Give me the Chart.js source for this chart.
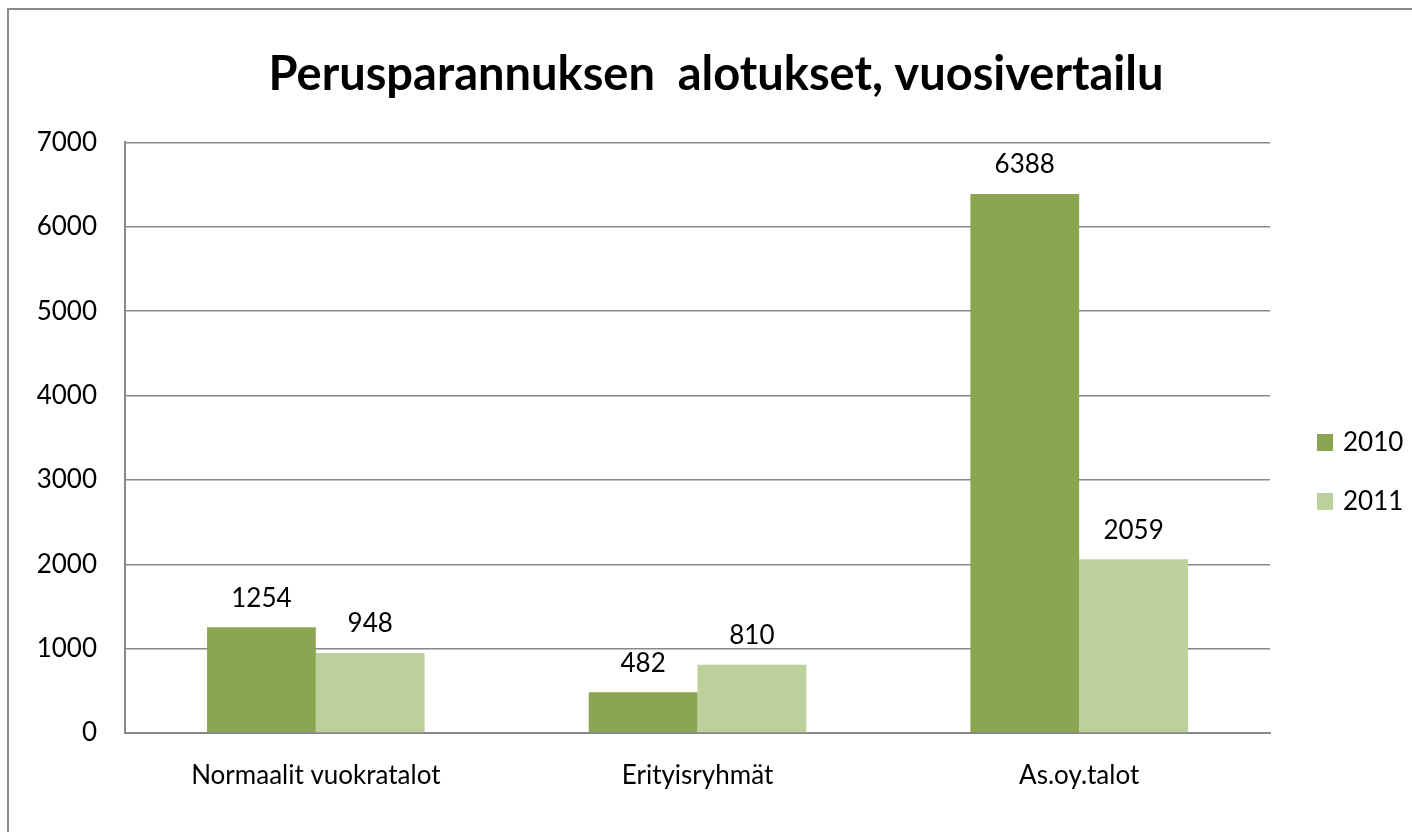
<!DOCTYPE html>
<html>
<head>
<meta charset="utf-8">
<script src="https://cdn.jsdelivr.net/npm/chart.js@4/dist/chart.umd.min.js"></script>
<style>
html,body{margin:0;padding:0;background:#fff;}
canvas{display:block;}
</style>
</head>
<body>
<canvas id="c" width="1412" height="832"></canvas>
<script>
const titleText = 'Perusparannuksen  alotukset, vuosivertailu';
const categories = ['Normaalit vuokratalot', 'Erityisryhmät', 'As.oy.talot'];
const seriesLabels = ['2010', '2011'];
const values2010 = [1254, 482, 6388];
const values2011 = [948, 810, 2059];
const yTicks = [0, 1000, 2000, 3000, 4000, 5000, 6000, 7000];
const colors = ['#8BA650', '#BBD09A'];
const FONT = 'Lato, "Open Sans", sans-serif';

const frame = {
  id: 'frame',
  beforeDraw(chart) {
    const ctx = chart.ctx;
    ctx.save();
    ctx.fillStyle = '#fff';
    ctx.fillRect(0, 0, chart.width, chart.height);
    ctx.strokeStyle = '#8a8a8a';
    ctx.lineWidth = 2;
    ctx.beginPath();
    ctx.moveTo(8, chart.height);
    ctx.lineTo(8, 9);
    ctx.lineTo(chart.width, 9);
    ctx.stroke();
    ctx.restore();
  }
};

const dataLabels = {
  id: 'dataLabels',
  afterDatasetsDraw(chart) {
    const ctx = chart.ctx;
    ctx.save();
    ctx.font = '26px ' + FONT;
    ctx.fillStyle = '#000';
    ctx.textAlign = 'center';
    ctx.textBaseline = 'middle';
    chart.data.datasets.forEach((ds, i) => {
      chart.getDatasetMeta(i).data.forEach((bar, j) => {
        ctx.fillText(String(ds.data[j]), bar.x, bar.y - 29);
      });
    });
    ctx.restore();
  }
};

const sideLegend = {
  id: 'sideLegend',
  afterDraw(chart) {
    const ctx = chart.ctx;
    const x0 = chart.chartArea.right + 47;
    const ys = [442, 501];
    ctx.save();
    ctx.font = '26px ' + FONT;
    ctx.textBaseline = 'middle';
    ctx.textAlign = 'left';
    chart.data.datasets.forEach((ds, i) => {
      ctx.fillStyle = ds.backgroundColor;
      ctx.fillRect(x0, ys[i] - 8, 16, 17);
      ctx.fillStyle = '#000';
      ctx.fillText(ds.label, x0 + 26, ys[i] + 1);
    });
    ctx.restore();
  }
};

new Chart(document.getElementById('c'), {
  type: 'bar',
  data: {
    labels: categories,
    datasets: [
      { label: seriesLabels[0], data: values2010, backgroundColor: colors[0], borderWidth: 0 },
      { label: seriesLabels[1], data: values2011, backgroundColor: colors[1], borderWidth: 0 }
    ]
  },
  options: {
    responsive: false,
    animation: false,
    devicePixelRatio: 1,
    layout: { padding: { left: 20, right: 0, top: 0, bottom: 0 } },
    datasets: { bar: { barPercentage: 1, categoryPercentage: 0.57 } },
    plugins: {
      legend: { display: false },
      tooltip: { enabled: false },
      title: {
        display: true,
        text: titleText,
        color: '#000',
        font: { family: FONT, size: 47, weight: 'bold', lineHeight: 1.2 },
        padding: { top: 47, bottom: 39 }
      }
    },
    scales: {
      x: {
        grid: { display: false, drawTicks: false },
        border: { display: true, color: '#888', width: 2 },
        ticks: { color: '#000', font: { family: FONT, size: 26 }, padding: 27, maxRotation: 0 },
        afterFit(scale) { scale.height = 99; }
      },
      y: {
        min: 0,
        max: 7000,
        afterBuildTicks(scale) { scale.ticks = yTicks.map(v => ({ value: v })); },
        grid: { color: '#888', lineWidth: 1.5, drawTicks: false },
        border: { display: true, color: '#888', width: 2 },
        ticks: { color: '#000', font: { family: FONT, size: 26 }, padding: 28,
                 callback: (v) => String(v) },
        afterFit(scale) { scale.width = 105; }
      },
      legendSpace: {
        type: 'linear',
        position: 'right',
        display: true,
        grid: { display: false, drawTicks: false },
        border: { display: false },
        ticks: { display: false },
        afterFit(scale) { scale.width = 142; }
      }
    }
  },
  plugins: [frame, dataLabels, sideLegend]
});
</script>
</body>
</html>
